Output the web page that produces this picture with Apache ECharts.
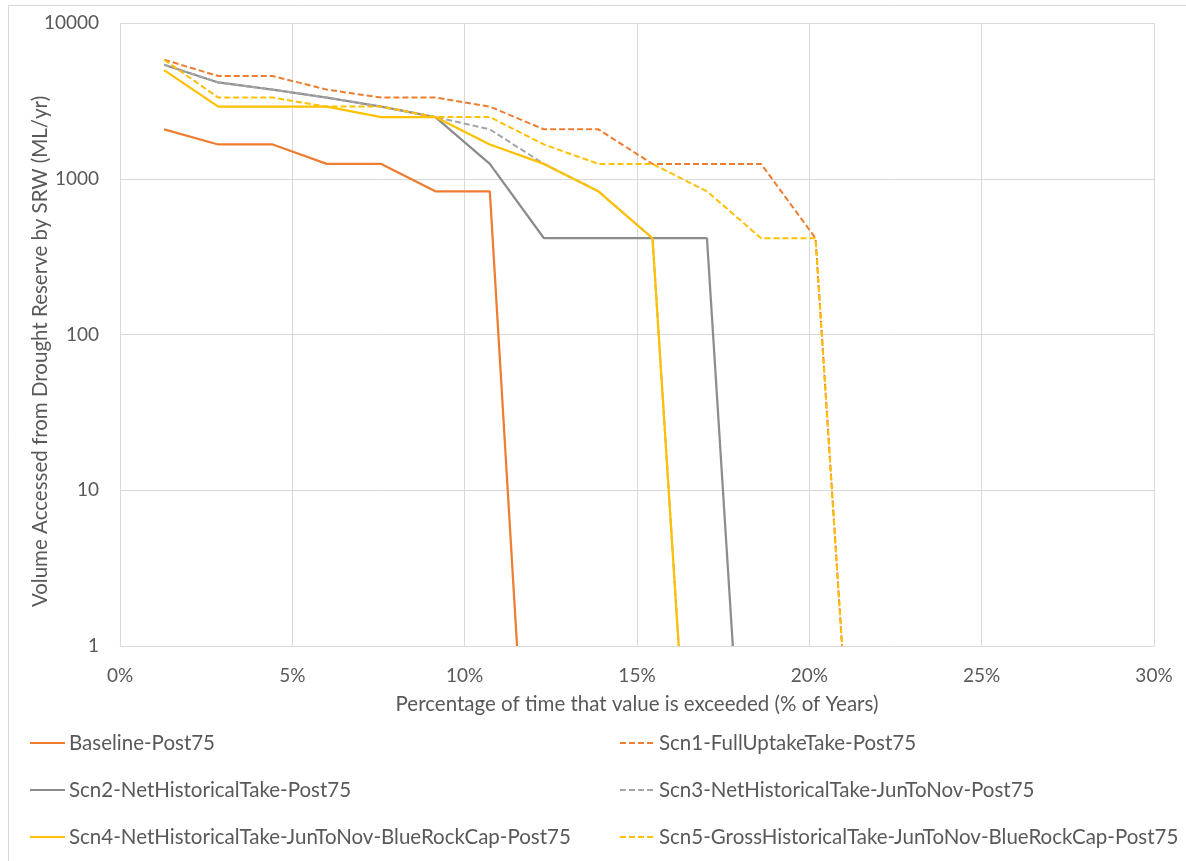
<!DOCTYPE html>
<html>
<head>
<meta charset="utf-8">
<script src="https://cdn.jsdelivr.net/npm/echarts@6/dist/echarts.min.js"></script>
<style>
html,body{margin:0;padding:0;background:#fff;}
#chart{width:1186px;height:861px;}
</style>
</head>
<body>
<div id="chart"></div>
<script>
// Percentage of years (x) at which each ranked value is plotted
const pct = [1.28, 2.85, 4.43, 6.00, 7.58, 9.15, 10.73, 12.30, 13.88, 15.45, 17.03, 18.60, 20.18];

// Volumes (ML/yr)
const baselineY = [2075, 1660, 1660, 1245, 1245, 830, 830];
const scn1Y = [5810, 4565, 4565, 3735, 3320, 3320, 2905, 2075, 2075, 1245, 1245, 1245, 415];
const scn2Y = [5395, 4150, 3735, 3320, 2905, 2490, 1245, 415, 415, 415, 415];
const scn3Y = [5395, 4150, 3735, 3320, 2905, 2490, 2075, 1245, 830, 415];
const scn4Y = [4980, 2905, 2905, 2905, 2490, 2490, 1660, 1245, 830, 415];
const scn5Y = [5810, 3320, 3320, 2905, 2905, 2490, 2490, 1660, 1245, 1245, 830, 415, 415];

// Where each curve falls to the bottom of the axis (% of years)
const baselineEnd = 11.52;
const scn1End = 20.95;
const scn2End = 17.78;
const scn3End = 16.21;
const scn4End = 16.21;
const scn5End = 20.95;

const names = [
  'Baseline-Post75',
  'Scn1-FullUptakeTake-Post75',
  'Scn2-NetHistoricalTake-Post75',
  'Scn3-NetHistoricalTake-JunToNov-Post75',
  'Scn4-NetHistoricalTake-JunToNov-BlueRockCap-Post75',
  'Scn5-GrossHistoricalTake-JunToNov-BlueRockCap-Post75'
];
const yTicks = ['1', '10', '100', '1000', '10000'];
const xTicks = ['0%', '5%', '10%', '15%', '20%', '25%', '30%'];

function pairs(ys, end) {
  const out = ys.map((v, i) => [pct[i], v]);
  out.push([end, 1]);
  return out;
}

const FONT = 'Lato, "Open Sans", sans-serif';
const TXT = '#595959';

const styles = [
  {color: '#ED7D31', type: 'solid', width: 2.25},
  {color: '#ED7D31', type: [6, 3], width: 2},
  {color: '#8C8C8C', type: 'solid', width: 2.25},
  {color: '#A5A5A5', type: [6, 3], width: 2},
  {color: '#FFC000', type: 'solid', width: 2.25},
  {color: '#FFC000', type: [6, 3], width: 2}
];
const datas = [
  pairs(baselineY, baselineEnd),
  pairs(scn1Y, scn1End),
  pairs(scn2Y, scn2End),
  pairs(scn3Y, scn3End),
  pairs(scn4Y, scn4End),
  pairs(scn5Y, scn5End)
];

const chart = echarts.init(document.getElementById('chart'), null, {renderer: 'canvas'});

// legend layout: [left, centerY] for each series
const legendPos = [[29, 743], [619, 743], [29, 790], [619, 790], [29, 837], [619, 837]];
const legends = names.map((n, i) => ({
  left: legendPos[i][0],
  top: legendPos[i][1] - 12,
  padding: 0,
  data: [n],
  itemWidth: 35,
  itemHeight: 14,
  itemStyle: {opacity: 0},
  textStyle: {fontFamily: FONT, fontSize: 20.5, color: TXT, lineHeight: 24, padding: [0, 0, 0, -1]},
  selectedMode: false
}));

chart.setOption({
  backgroundColor: '#fff',
  animation: false,
  graphic: [{
    type: 'rect',
    shape: {x: 8.5, y: 5.5, width: 1300, height: 1000},
    style: {fill: 'none', stroke: '#D9D9D9', lineWidth: 1},
    silent: true
  }],
  grid: {left: 120, top: 23, right: 32, bottom: 215, containLabel: false},
  legend: legends,
  xAxis: {
    type: 'value',
    min: 0, max: 30, interval: 5,
    name: 'Percentage of time that value is exceeded (% of Years)',
    nameLocation: 'middle',
    nameGap: 48,
    nameMoveOverlap: false,
    nameTextStyle: {fontFamily: FONT, fontSize: 20.5, color: TXT},
    axisLine: {show: true, lineStyle: {color: '#D9D9D9', width: 1}},
    axisTick: {show: false},
    axisLabel: {
      fontFamily: FONT, fontSize: 19, color: TXT, margin: 20,
      formatter: v => xTicks[Math.round(v / 5)]
    },
    splitLine: {show: true, lineStyle: {color: '#D9D9D9', width: 1}}
  },
  yAxis: {
    type: 'log',
    logBase: 10,
    min: 1, max: 10000,
    name: 'Volume Accessed from Drought Reserve by SRW (ML/yr)',
    nameLocation: 'middle',
    nameGap: 68,
    nameRotate: 90,
    nameMoveOverlap: false,
    nameTextStyle: {fontFamily: FONT, fontSize: 20.5, color: TXT, lineHeight: 24, padding: [0, 34, 0, 0]},
    axisLine: {show: false},
    axisTick: {show: false},
    axisLabel: {
      fontFamily: FONT, fontSize: 19, color: TXT, margin: 21,
      formatter: v => yTicks[Math.round(Math.log10(v))]
    },
    splitLine: {show: true, lineStyle: {color: '#D9D9D9', width: 1}}
  },
  series: names.map((n, i) => ({
    name: n,
    type: 'line',
    data: datas[i],
    symbol: 'none',
    showSymbol: false,
    clip: true,
    color: styles[i].color,
    lineStyle: {color: styles[i].color, type: styles[i].type, width: styles[i].width},
    itemStyle: {color: styles[i].color},
    emphasis: {disabled: true},
    z: 2 + i
  }))
});
</script>
</body>
</html>
